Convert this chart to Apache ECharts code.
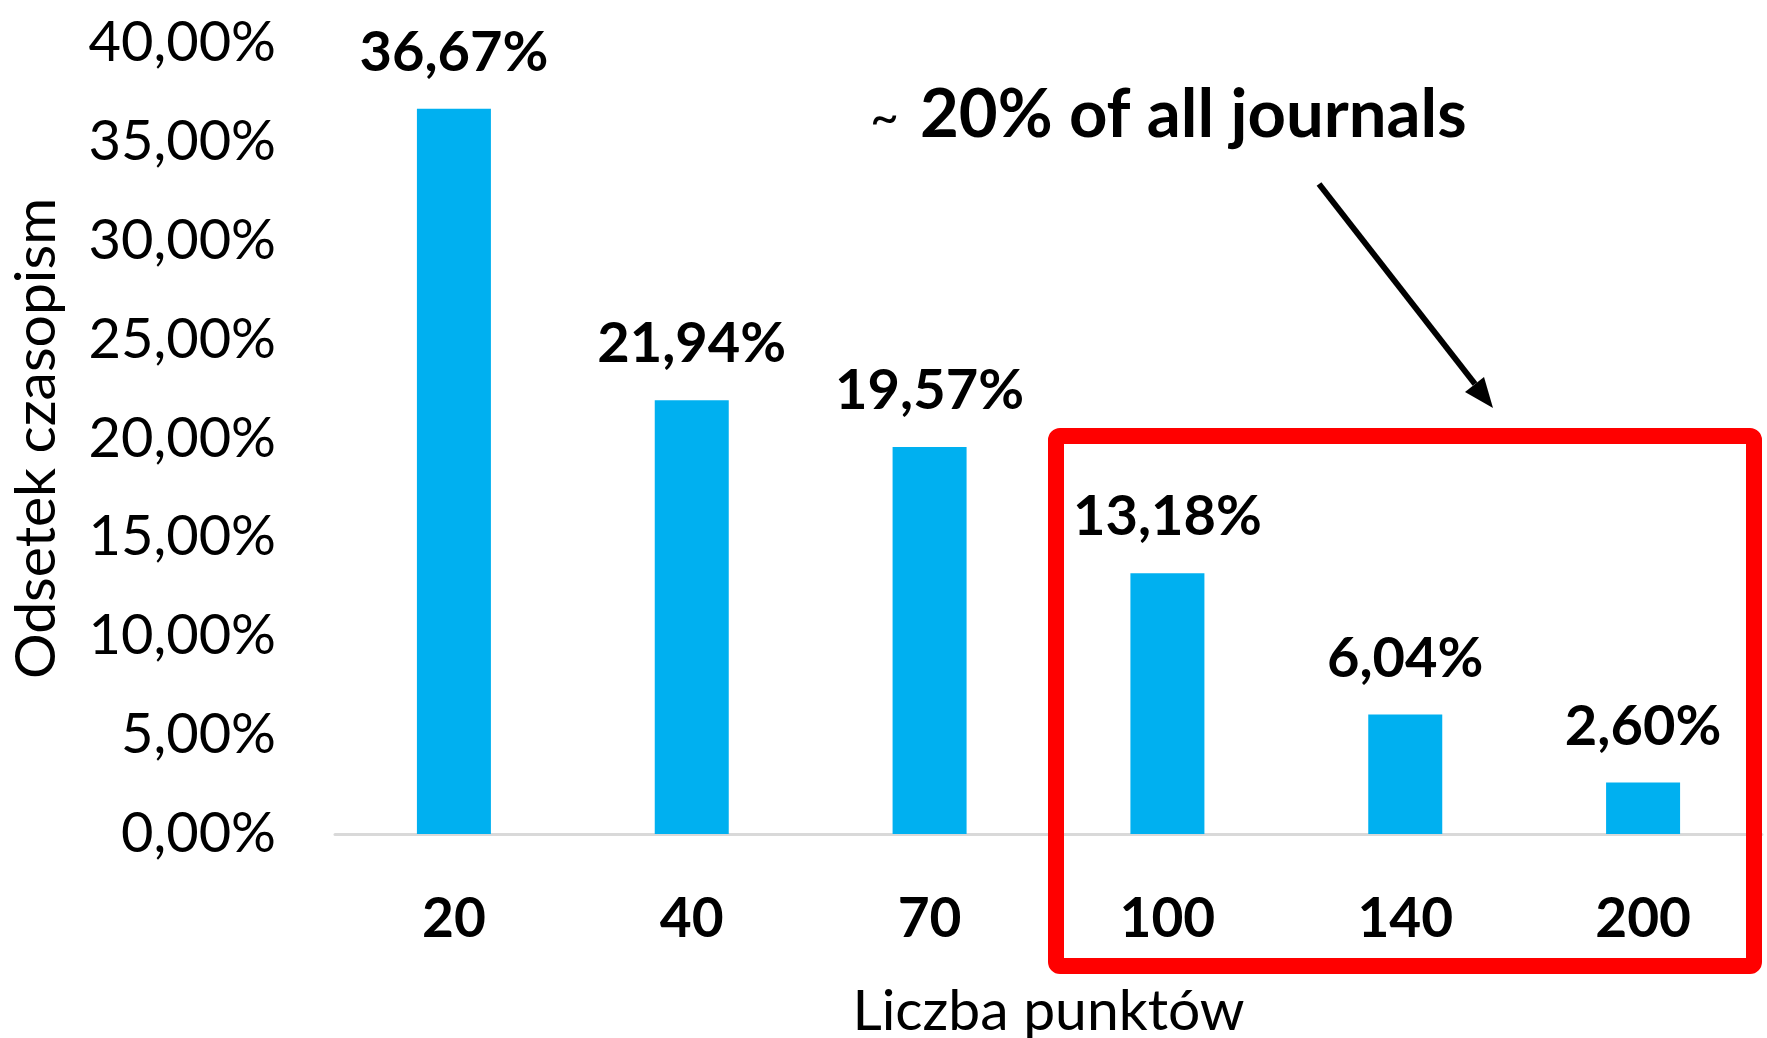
<!DOCTYPE html>
<html>
<head>
<meta charset="utf-8">
<script src="https://cdn.jsdelivr.net/npm/echarts@6/dist/echarts.min.js"></script>
<style>
html, body { margin: 0; padding: 0; background: #fff; }
#chart { width: 1767px; height: 1038px; }
</style>
</head>
<body>
<div id="chart"></div>
<script>
// punkty (kategorie) i odsetek czasopism w %
var categories = ['20', '40', '70', '100', '140', '200']
var shares = [36.67, 21.94, 19.57, 13.18, 6.04, 2.60]
var yTicks = { min: 0, max: 40, step: 5 }

function pl(v) {
	return v.toFixed(2).replace('.', ',') + '%'
}

var font = 'Lato'
var chart = echarts.init(document.getElementById('chart'))

var option = {
	backgroundColor: '#fff',
	animation: false,
	grid: { left: 335, right: 5, top: 43, bottom: 204, outerBoundsMode: 'none' },
	xAxis: {
		type: 'category',
		data: categories,
		name: 'Liczba punktów',
		nameLocation: 'middle',
		nameGap: 149,
		nameTextStyle: { fontFamily: font, fontSize: 57, color: '#000' },
		axisLine: { lineStyle: { color: '#d9d9d9', width: 3 } },
		axisTick: { show: false },
		axisLabel: {
			margin: 58,
			fontFamily: font,
			fontSize: 55,
			fontWeight: 'bold',
			color: '#000',
		},
	},
	yAxis: {
		type: 'value',
		min: yTicks.min,
		max: yTicks.max,
		interval: yTicks.step,
		name: 'Odsetek czasopism',
		nameLocation: 'middle',
		nameGap: 270,
		nameTextStyle: { fontFamily: font, fontSize: 57, color: '#000' },
		axisLine: { show: false },
		axisTick: { show: false },
		splitLine: { show: false },
		axisLabel: {
			margin: 59,
			fontFamily: font,
			fontSize: 56,
			color: '#000',
			formatter: function (v) {
				return pl(v)
			},
		},
	},
	series: [
		{
			type: 'bar',
			data: shares,
			barWidth: 74,
			itemStyle: { color: '#00b0f0' },
			label: {
				show: true,
				position: 'top',
				distance: 28,
				fontFamily: font,
				fontSize: 56,
				fontWeight: 'bold',
				color: '#000',
				formatter: function (p) {
					return pl(p.value)
				},
			},
		},
	],
	graphic: [
		// czerwona ramka wokol 100-200
		{
			type: 'rect',
			shape: { x: 1056, y: 436, width: 698, height: 530, r: 4 },
			style: { fill: 'none', stroke: '#ff0000', lineWidth: 16 },
			z: 10,
		},
		{
			type: 'text',
			x: 870,
			y: 119,
			style: {
				text: '~',
				fontFamily: font,
				fontSize: 50,
				fill: '#000',
				verticalAlign: 'middle',
			},
		},
		{
			type: 'text',
			x: 920,
			y: 115,
			style: {
				text: '20% of all journals',
				fontFamily: font,
				fontSize: 67,
				fontWeight: 'bold',
				fill: '#000',
				verticalAlign: 'middle',
			},
		},
		// strzalka
		{
			type: 'line',
			shape: { x1: 1319, y1: 184, x2: 1475, y2: 384 },
			style: { stroke: '#000', lineWidth: 6 },
		},
		{
			type: 'polygon',
			shape: { points: [[1493, 408], [1465, 392], [1484, 377]] },
			style: { fill: '#000' },
		},
	],
}

chart.setOption(option)
window.addEventListener('resize', function () {
	chart.resize()
})
</script>
</body>
</html>
